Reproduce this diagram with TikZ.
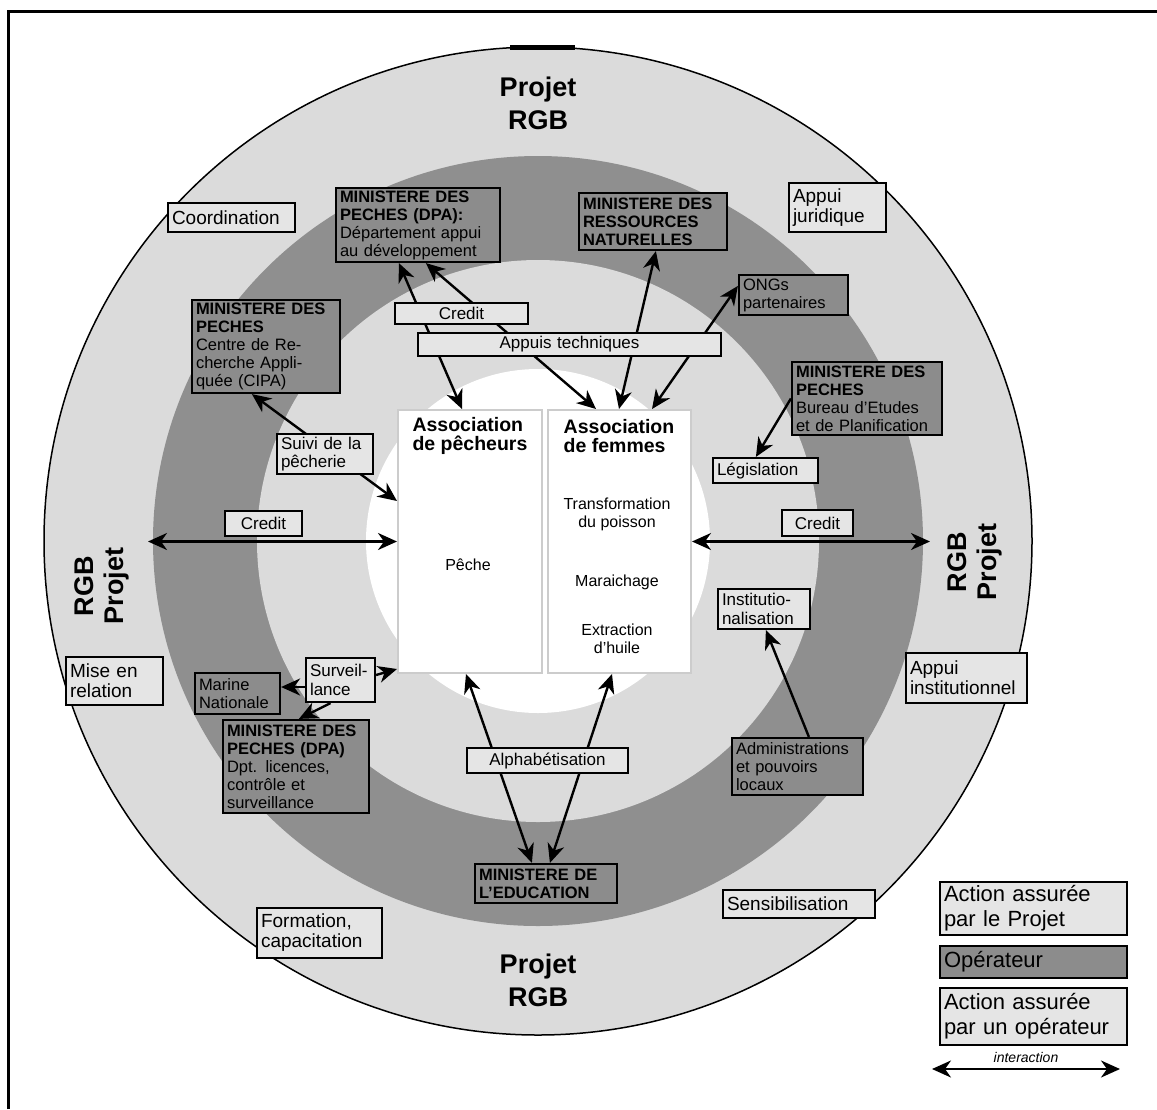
\documentclass[tikz,border=0pt]{standalone}
\usepackage{fontspec}
\setmainfont{Liberation Sans}
\usetikzlibrary{arrows.meta}
\pgfdeclarelayer{bg}
\pgfdeclarelayer{arrows}
\pgfsetlayers{bg,arrows,main}
\definecolor{lring}{gray}{0.86}
\definecolor{dring}{gray}{0.56}
\definecolor{lboxc}{gray}{0.90}
\definecolor{dboxc}{gray}{0.55}
\tikzset{
  lbox/.style={draw, line width=2.2pt, fill=lboxc, inner xsep=4pt, inner ysep=0.5pt, align=left, font=\fontsize{17}{18.5}\selectfont},
  obox/.style={lbox, font=\fontsize{19}{20}\selectfont},
  dbox/.style={lbox, fill=dboxc, font=\fontsize{16.5}{18}\selectfont},
  assbox/.style={draw=black!20, line width=2pt, fill=white, minimum width=144pt, minimum height=263pt},
  asstitle/.style={align=left, font=\fontsize{19.5}{19}\selectfont\bfseries},
  inner/.style={align=center, font=\fontsize{16}{18}\selectfont},
  bigtitle/.style={align=center, font=\fontsize{27}{33}\selectfont\bfseries},
  legbox/.style={lbox, font=\fontsize{22}{25}\selectfont, text width=179pt},
  arr/.style={line width=2.4pt, {Stealth[length=19pt,width=17pt,inset=6pt]}-{Stealth[length=19pt,width=17pt,inset=6pt]}},
  sarr/.style={line width=2.4pt, -{Stealth[length=19pt,width=17pt,inset=6pt]}}
}
\begin{document}
\begin{tikzpicture}[x=1pt,y=-1pt]
\useasboundingbox (0,0) rectangle (1157,1109);
% frame
\draw[line width=3pt] (8,1109) -- (8,11) -- (1160,11);
% rings
\begin{pgfonlayer}{bg}
\filldraw[fill=lring, draw=black, line width=1.5pt] (538,541) circle[radius=494];
\fill[dring] (538,541) circle[radius=385];
\fill[lring] (538,541) circle[radius=281];
\fill[white] (538,541) circle[radius=172];
\fill[black] (510,45) rectangle (575,50);
\end{pgfonlayer}
% titles
\node[bigtitle] (ttop) at (538,103) {Projet\\RGB};
\node[bigtitle] (tbot) at (538,980) {Projet\\RGB};
\node[bigtitle, rotate=90, font=\fontsize{27}{30}\selectfont\bfseries] (tleft) at (102,586) {RGB\\Projet};
\node[bigtitle, rotate=90, font=\fontsize{27}{30}\selectfont\bfseries] (tright) at (975,562) {RGB\\Projet};
% associations
\node[assbox] (assp) at (470,541.5) {};
\node[assbox, minimum width=143pt] (assf) at (619.5,541.5) {};
\node[asstitle] (tp) at (470,436) {Association\\de pêcheurs};
\node[asstitle] (tf) at (619,436) {Association\\de femmes};
\node[inner] (peche) at (468,565) {Pêche};
\node[inner] (transf) at (617,514) {Transformation\\du poisson};
\node[inner] (mara) at (617,582) {Maraichage};
\node[inner] (extr) at (617,639) {Extraction\\d'huile};
% outer ring boxes
\node[obox, text width=119pt, minimum height=29pt] (coord) at (231.5,217.5) {Coordination};
\node[obox, text width=89pt, minimum height=49pt] (appjur) at (837.5,207.5) {Appui\\juridique};
\node[obox, text width=89pt, minimum height=48pt] (mise) at (114.5,681) {Mise en\\relation};
\node[obox, text width=113pt, minimum height=50pt] (appinst) at (966.5,678) {Appui\\institutionnel};
\node[obox, text width=117pt, minimum height=50pt] (form) at (319.5,933) {Formation,\\capacitation};
\node[obox, text width=144pt, minimum height=28pt] (sens) at (799,904) {Sensibilisation};
% inner ring light boxes
\node[lbox, align=center, text width=125pt, minimum height=21pt] (credtop) at (461.5,313.5) {Credit};
\node[lbox, align=center, text width=295pt, minimum height=23pt] (appuis) at (569.5,344.5) {Appuis techniques};
\node[lbox, text width=88pt, minimum height=40pt] (suivi) at (325,454) {Suivi de la\\pêcherie};
\node[lbox, align=center, text width=69pt, minimum height=25pt] (credl) at (263.5,523.5) {Credit};
\node[lbox, align=center, text width=63pt, minimum height=26pt] (credr) at (817.5,523) {Credit};
\node[lbox, text width=97pt, minimum height=25pt] (legis) at (765.5,470.5) {Législation};
\node[lbox, text width=84pt, minimum height=40pt] (instit) at (764,609) {Institutio-\\nalisation};
\node[lbox, text width=61pt, minimum height=44pt] (surv) at (340.5,680) {Surveil-\\lance};
\node[lbox, align=center, text width=153pt, minimum height=25pt] (alpha) at (547.5,760.5) {Alphabétisation};
% operators
\node[dbox, text width=156pt, minimum height=74pt] (dpa) at (418,225) {\textbf{MINISTERE DES}\\\textbf{PECHES (DPA):}\\Département appui\\au développement};
\node[dbox, text width=140pt, minimum height=57pt] (ressnat) at (653,221.5) {\textbf{MINISTERE DES}\\\textbf{RESSOURCES}\\\textbf{NATURELLES}};
\node[dbox, text width=101pt, minimum height=40pt] (ongs) at (793.5,295) {ONGs\\partenaires};
\node[dbox, text width=140pt, minimum height=93pt] (cipa) at (266,346.5) {\textbf{MINISTERE DES}\\\textbf{PECHES}\\Centre de Re-\\cherche Appli-\\quée (CIPA)};
\node[dbox, text width=142pt, minimum height=73pt] (bureau) at (867,398.5) {\textbf{MINISTERE DES}\\\textbf{PECHES}\\Bureau d'Etudes\\et de Planification};
\node[dbox, text width=77pt, minimum height=41pt] (marine) at (237.5,693.5) {Marine\\Nationale};
\node[dbox, text width=138pt, minimum height=93pt] (dpalic) at (296,766.5) {\textbf{MINISTERE DES}\\\textbf{PECHES (DPA)}\\Dpt. licences,\\contrôle et\\surveillance};
\node[dbox, text width=134pt, minimum height=39pt] (educ) at (546,883.5) {\textbf{MINISTERE DE}\\\textbf{L'EDUCATION}};
\node[dbox, text width=123pt, minimum height=57pt] (admin) at (797.5,766.5) {Administrations\\et pouvoirs\\locaux};
% legend
\node[legbox, minimum height=53pt] (leg1) at (1033.5,908.5) {Action assurée\\par le Projet};
\node[legbox, fill=dboxc, minimum height=32pt] (leg2) at (1033.5,962) {Opérateur};
\node[legbox, minimum height=57pt] (leg3) at (1033.5,1016.5) {Action assurée\\par un opérateur};
\coordinate (ia) at (932,1069);
\coordinate (ib) at (1120,1069);
\draw[arr] (ia) -- (ib) node[midway, above=2pt, font=\itshape\fontsize{14}{14}\selectfont] (intl) {interaction};
% connectors
\coordinate (cl) at (148,541.5);
\coordinate (cr) at (930,541.5);
\begin{pgfonlayer}{arrows}
\draw[arr] ([xshift=64pt]dpa.south west) -- ([xshift=65pt]assp.north west);
\draw[arr] ([xshift=91pt]dpa.south west) -- ([xshift=49pt]assf.north west);
\draw[arr] ([xshift=78pt]ressnat.south west) -- ([xshift=72pt]assf.north west);
\draw[arr] ([yshift=-12pt]ongs.north west) -- ([xshift=105pt]assf.north west);
\draw[sarr] (bureau.west) -- ([xshift=44pt]legis.north west);
\draw[arr] ([xshift=61pt]cipa.south west) -- ([yshift=-92pt]assp.north west);
\draw[arr] (cl) -- (assp.west);
\draw[arr] (assf.east) -- (cr);
\draw[sarr] ([yshift=5pt]surv.east) -- ([yshift=5pt]assp.south west);
\draw[sarr] ([yshift=-7pt]surv.west) -- ([yshift=6.5pt]marine.east);
\draw[sarr] ([xshift=-10pt]surv.south) -- ([xshift=77pt]dpalic.north west);
\draw[arr] ([xshift=69pt]assp.south west) -- ([xshift=58pt]educ.north west);
\draw[arr] ([xshift=65pt]assf.south west) -- ([xshift=76pt]educ.north west);
\draw[sarr] ([xshift=78pt]admin.north west) -- ([xshift=49pt]instit.south west);
\end{pgfonlayer}
\end{tikzpicture}
\end{document}
